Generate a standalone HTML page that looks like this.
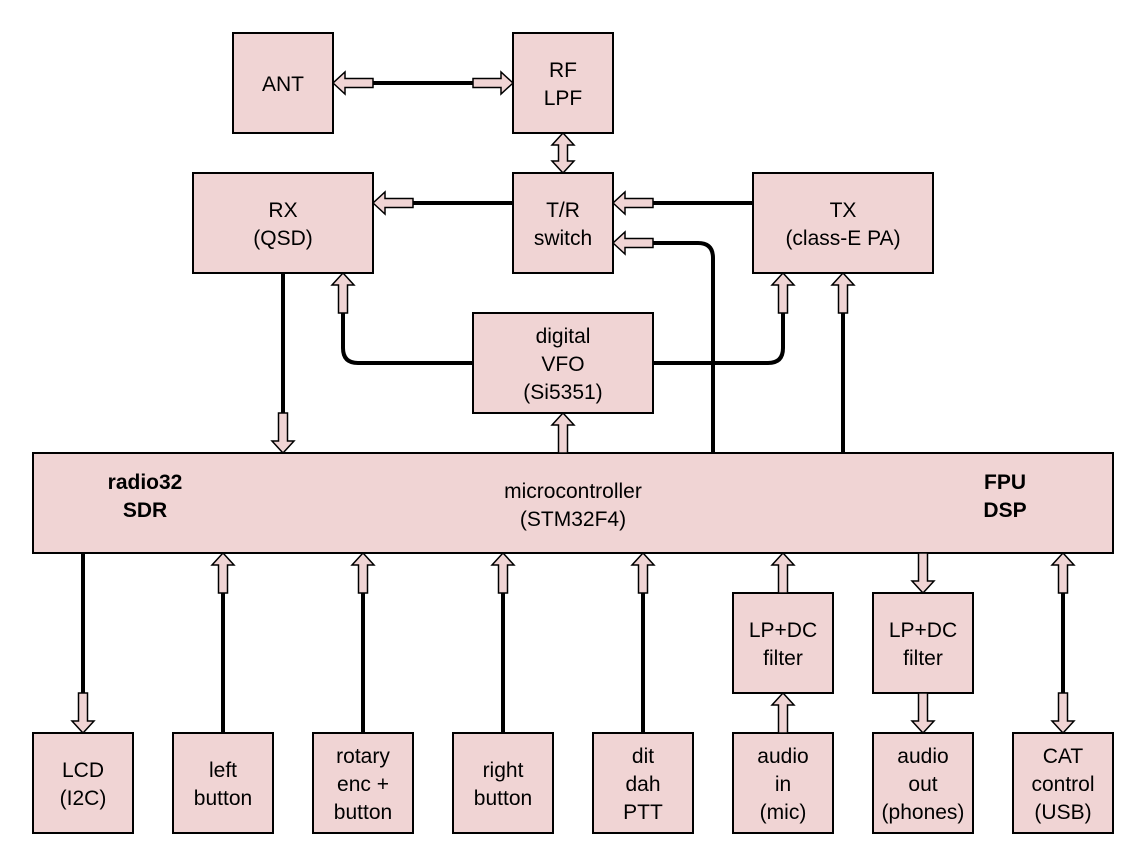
<!DOCTYPE html>
<html><head><meta charset="utf-8"><style>
html,body{margin:0;padding:0;background:#fff}
svg{display:block}
text{font-family:"Liberation Sans",Arial,sans-serif;font-size:21px;fill:#000;text-anchor:middle}
.b{fill:#f0d4d4;stroke:#000;stroke-width:2}
.l{fill:none;stroke:#000;stroke-width:4}
.a{fill:#f0d4d4;stroke:#000;stroke-width:1.5}
.bold{font-weight:bold}
</style></head><body>
<svg width="1130" height="850" viewBox="0 0 1130 850" xmlns="http://www.w3.org/2000/svg">
<defs>
<path id="a" class="a" d="M0,0 L-12,-11 L-12,-4.5 L-40,-4.5 L-40,4.5 L-12,4.5 L-12,11 Z"/>
</defs>
<path class="l" d="M373,83 H473"/>
<path class="l" d="M513,203 H413"/>
<path class="l" d="M753,203 H653"/>
<path class="l" d="M713,453 V258 Q713,243 698,243 H653"/>
<path class="l" d="M473,363 H358 Q343,363 343,348 V313"/>
<path class="l" d="M653,363 H768 Q783,363 783,348 V313"/>
<path class="l" d="M843,453 V313"/>
<path class="l" d="M283,273 V413"/>
<path class="l" d="M83,553 V693"/>
<path class="l" d="M223,733 V593"/>
<path class="l" d="M363,733 V593"/>
<path class="l" d="M503,733 V593"/>
<path class="l" d="M643,733 V593"/>
<path class="l" d="M1063,593 V693"/>
<rect class="b" x="233" y="33" width="100" height="100"/>
<rect class="b" x="513" y="33" width="100" height="100"/>
<rect class="b" x="193" y="173" width="180" height="100"/>
<rect class="b" x="513" y="173" width="100" height="100"/>
<rect class="b" x="753" y="173" width="180" height="100"/>
<rect class="b" x="473" y="313" width="180" height="100"/>
<rect class="b" x="33" y="453" width="1080" height="100"/>
<rect class="b" x="733" y="593" width="100" height="100"/>
<rect class="b" x="873" y="593" width="100" height="100"/>
<rect class="b" x="33" y="733" width="100" height="100"/>
<rect class="b" x="173" y="733" width="100" height="100"/>
<rect class="b" x="313" y="733" width="100" height="100"/>
<rect class="b" x="453" y="733" width="100" height="100"/>
<rect class="b" x="593" y="733" width="100" height="100"/>
<rect class="b" x="733" y="733" width="100" height="100"/>
<rect class="b" x="873" y="733" width="100" height="100"/>
<rect class="b" x="1013" y="733" width="100" height="100"/>
<use href="#a" transform="translate(333,83) rotate(180)"/>
<use href="#a" transform="translate(513,83)"/>
<path class="a" d="M563,133 L574,145 L567.5,145 L567.5,161 L574,161 L563,173 L552,161 L558.5,161 L558.5,145 L552,145 Z"/>
<use href="#a" transform="translate(373,203) rotate(180)"/>
<use href="#a" transform="translate(613,203) rotate(180)"/>
<use href="#a" transform="translate(613,243) rotate(180)"/>
<use href="#a" transform="translate(343,273) rotate(-90)"/>
<use href="#a" transform="translate(783,273) rotate(-90)"/>
<use href="#a" transform="translate(843,273) rotate(-90)"/>
<use href="#a" transform="translate(283,453) rotate(90)"/>
<use href="#a" transform="translate(563,413) rotate(-90)"/>
<use href="#a" transform="translate(83,733) rotate(90)"/>
<use href="#a" transform="translate(223,553) rotate(-90)"/>
<use href="#a" transform="translate(363,553) rotate(-90)"/>
<use href="#a" transform="translate(503,553) rotate(-90)"/>
<use href="#a" transform="translate(643,553) rotate(-90)"/>
<use href="#a" transform="translate(783,553) rotate(-90)"/>
<use href="#a" transform="translate(783,693) rotate(-90)"/>
<use href="#a" transform="translate(923,593) rotate(90)"/>
<use href="#a" transform="translate(923,733) rotate(90)"/>
<use href="#a" transform="translate(1063,553) rotate(-90)"/>
<use href="#a" transform="translate(1063,733) rotate(90)"/>
<text x="283" y="91">ANT</text>
<text x="563" y="77">RF</text><text x="563" y="105">LPF</text>
<text x="283" y="217">RX</text><text x="283" y="245">(QSD)</text>
<text x="563" y="217">T/R</text><text x="563" y="245">switch</text>
<text x="843" y="217">TX</text><text x="843" y="245">(class-E PA)</text>
<text x="563" y="343">digital</text><text x="563" y="371">VFO</text><text x="563" y="399">(Si5351)</text>
<text x="145" y="489" class="bold">radio32</text><text x="145" y="517" class="bold">SDR</text>
<text x="573" y="498">microcontroller</text><text x="573" y="526">(STM32F4)</text>
<text x="1005" y="489" class="bold">FPU</text><text x="1005" y="517" class="bold">DSP</text>
<text x="783" y="637">LP+DC</text><text x="783" y="665">filter</text>
<text x="923" y="637">LP+DC</text><text x="923" y="665">filter</text>
<text x="83" y="777">LCD</text><text x="83" y="805">(I2C)</text>
<text x="223" y="777">left</text><text x="223" y="805">button</text>
<text x="363" y="763">rotary</text><text x="363" y="791">enc +</text><text x="363" y="819">button</text>
<text x="503" y="777">right</text><text x="503" y="805">button</text>
<text x="643" y="763">dit</text><text x="643" y="791">dah</text><text x="643" y="819">PTT</text>
<text x="783" y="763">audio</text><text x="783" y="791">in</text><text x="783" y="819">(mic)</text>
<text x="923" y="763">audio</text><text x="923" y="791">out</text><text x="923" y="819">(phones)</text>
<text x="1063" y="763">CAT</text><text x="1063" y="791">control</text><text x="1063" y="819">(USB)</text>
</svg>
</body></html>
